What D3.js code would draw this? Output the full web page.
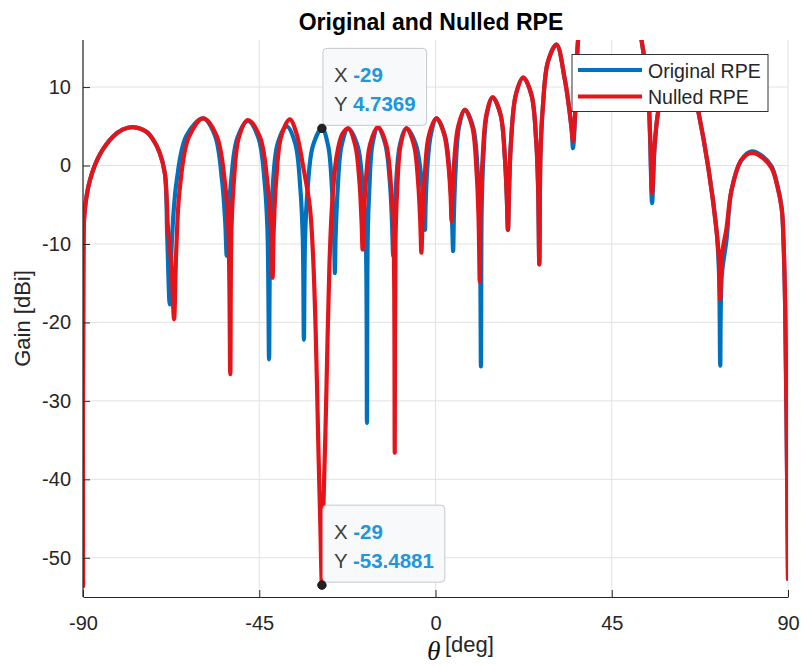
<!DOCTYPE html>
<html>
<head>
<meta charset="utf-8">
<script src="https://cdn.jsdelivr.net/npm/d3@7"></script>
<style>
  body { margin: 0; background: #fff; }
  svg { display: block; font-family: "Liberation Sans", Arial, Helvetica, sans-serif; }
</style>
</head>
<body>
<svg id="chart" width="801" height="666"></svg>
<script>
// Axis ticks
const xTicks = [-90, -45, 0, 45, 90];
const yTicks = [10, 0, -10, -20, -30, -40, -50];

// Series names (legend order)
const seriesNames = ["Original RPE", "Nulled RPE"];

// Radiation pattern samples: [theta (deg), gain (dBi)]
const originalRPE = [
  [-90,-53.6],[-89.9,-12],[-89.6,-6],[-88.3,-2],[-85.7,1.4],[-82.3,3.7],[-79.8,4.6],[-77.3,4.9],[-73.8,4.3],[-72.1,3.3],[-70.4,1.6],[-69.1,-1.0],[-68.5,-9],[-67.85,-17.7],
  [-67.25,-9],[-66.1,-2.0],[-63.6,3.8],[-59.3,6.0],[-56.3,3.8],[-54.5,-1.9],[-53.7,-7.1],[-53.3,-11.5],
  [-52.9,-7.2],[-52.2,-2.0],[-50.6,3.5],[-47.9,5.7],[-45.2,3.5],[-43.6,-2.3],[-42.9,-8.3],[-42.5,-24.7],
  [-42.2,-9.0],[-41.6,-3.0],[-40.3,2.8],[-38.0,5.0],[-35.8,2.8],[-34.5,-3.0],[-33.9,-9.0],[-33.6,-22.2],
  [-33.3,-9.3],[-32.7,-3.3],[-31.3,2.5],[-29.0,4.7369],[-27.4,2.5],[-26.4,-3.3],[-25.9,-9.1],[-25.7,-13.7],
  [-25.5,-9.1],[-25.0,-3.3],[-24.0,2.5],[-22.3,4.7],[-19.9,2.5],[-18.5,-3.3],[-17.8,-9.3],[-17.5,-32.8],
  [-17.3,-9.1],[-16.9,-3.1],[-16.1,2.7],[-14.7,4.9],[-12.8,2.7],[-11.6,-2.5],[-11.1,-7.4],[-10.8,-11.5],
  [-10.5,-7.4],[-10.1,-2.6],[-9.1,2.6],[-7.4,4.75],[-5.1,2.8],[-3.7,-1.1],[-3.0,-5.0],[-2.7,-8.2],
  [-2.5,-4.7],[-2.1,-0.4],[-1.2,3.9],[0.25,6.0],[2.4,3.8],[3.7,-1.6],[4.2,-6.7],[4.5,-10.9],
  [4.7,-6.4],[5.1,-0.9],[6.0,4.9],[7.5,7.1],[9.6,4.9],[10.8,-0.9],[11.3,-6.9],[11.6,-25.6],
  [11.8,-5.3],[12.2,0.7],[13.1,6.5],[14.6,8.7],[16.6,6.5],[17.7,1.1],[18.2,-4.0],[18.5,-8.2],
  [18.8,-2.8],[19.3,3.2],[20.5,9.0],[22.4,11.2],[24.5,9.0],[25.7,3.2],[26.2,-2.8],[26.5,-12.6],
  [26.8,1.4],[27.4,7.4],[28.7,13.2],[30.9,15.4],[33.0,11.0],[34.2,7.0],[34.8,4.3],[35.1,2.2],
  [35.75,7.5],[36.4,16],[37.5,20],[40,24],[44.5,26],[49,24],[51.5,20],[52.6,16],[53.4,13.4],[54.3,9.6],[54.8,3.3],[55.3,-4.8],
  [55.9,2],[56.8,6.7],[58.5,10.5],[62,12.5],[65.5,10.5],[67.1,6.9],[69.6,-0.1],[71.8,-8.5],[72.4,-14],[72.7,-25.5],
  [73.1,-14],[74.3,-9.5],[75.6,-3.1],[78.1,0.7],[80.7,1.8],[83.5,1.2],[85.8,-0.1],[87.3,-2.5],[88.4,-5.5],[88.9,-10.3],[89.3,-18.8],[89.65,-33.6],[90,-52.7]
];

const nulledRPE = [
  [-90,-53.6],[-89.9,-12],[-89.6,-6],[-88.3,-2],[-85.7,1.4],[-82.3,3.7],[-79.8,4.6],[-77.3,4.9],[-73.8,4.3],[-72.1,3.3],[-70.4,1.6],[-69.1,-1.0],[-68.3,-8],[-67.4,-13],[-66.75,-19.6],
  [-66.2,-11],[-65.3,-3],[-63.0,3.6],[-59.3,6.0],[-55.9,3.8],[-53.8,-2.0],[-52.9,-8.0],[-52.4,-26.6],
  [-52.1,-8.2],[-51.5,-2.2],[-50.2,3.6],[-47.9,5.8],[-44.8,3.6],[-42.9,-2.2],[-42.0,-8.2],[-41.6,-14.3],
  [-41.3,-8.1],[-40.7,-2.1],[-39.4,3.7],[-37.2,5.9],[-35.5,4.1],[-33.8,-0.1],[-32.1,-5.2],[-31.3,-11.1],[-30.6,-21],[-29.9,-36],[-29.4,-46],[-29.0,-53.4881],
  [-28.6,-43],[-28.1,-34],[-27.6,-23],[-27.1,-13],[-26.4,-5],[-25.3,1.0],[-23.8,4.0],[-22.3,4.75],[-20.5,2.6],[-19.4,-2.2],[-18.9,-6.9],[-18.6,-10.7],
  [-18.3,-6.8],[-17.8,-2.1],[-16.7,2.7],[-14.7,4.9],[-12.6,2.7],[-11.3,-3.1],[-10.7,-9.1],[-10.4,-36.6],
  [-10.2,-9.3],[-9.8,-3.3],[-8.9,2.6],[-7.4,4.75],[-5.5,2.6],[-4.4,-2.4],[-3.9,-7.1],[-3.6,-11.1],
  [-3.3,-6.8],[-2.8,-1.7],[-1.7,3.8],[0.25,6.0],[2.2,4.0],[3.3,0.1],[3.85,-3.8],[4.1,-7.1],
  [4.35,-3.6],[4.8,0.7],[5.8,5.0],[7.5,7.1],[9.4,4.9],[10.5,-0.9],[11.0,-6.9],[11.3,-14.8],
  [11.5,-5.3],[12.0,0.7],[13.0,6.5],[14.6,8.7],[16.6,6.5],[17.7,1.1],[18.2,-4.0],[18.5,-8.2],
  [18.8,-2.8],[19.3,3.2],[20.5,9.0],[22.4,11.2],[24.5,9.0],[25.7,3.2],[26.2,-2.8],[26.5,-12.6],
  [26.8,1.4],[27.4,7.4],[28.7,13.2],[30.9,15.4],[33.0,11.0],[34.2,7.0],[34.8,4.5],[35.1,3.1],
  [35.75,7.5],[36.4,16],[37.5,20],[40,24],[44.5,26],[49,24],[51.5,20],[52.6,16],[53.4,13.4],[54.3,9.6],[54.8,3.8],[55.3,-3.5],
  [55.9,2.3],[56.8,6.7],[58.5,10.5],[62,12.5],[65.5,10.5],[67.1,6.9],[69.6,-0.1],[71.8,-8.5],[72.3,-11.5],[72.7,-17.1],
  [73.1,-11.5],[74.3,-8],[75.6,-3.1],[78.1,0.7],[80.7,1.6],[83.5,1.0],[85.8,-0.3],[87.3,-2.7],[88.4,-5.5],[88.9,-10.3],[89.3,-18.8],[89.65,-33.6],[90,-52.7]
];

// Data tips: [theta, gain]
const dataTips = [[-29, 4.7369], [-29, -53.4881]];

const colors = { original: "#0072bd", nulled: "#e5141b", axis: "#262626", grid: "#e2e2e2", tipValue: "#2196dc" };

const svg = d3.select("#chart");
const plot = { left: 83, right: 788, top: 40, bottom: 597 };

const x = d3.scaleLinear().domain([-90, 90]).range([plot.left, plot.right]);
const y = d3.scaleLinear().domain([-55, 16]).range([plot.bottom, plot.top]);

// Grid
const grid = svg.append("g");
grid.selectAll("line.vg").data(xTicks).join("line")
  .attr("x1", d => x(d)).attr("x2", d => x(d))
  .attr("y1", plot.top).attr("y2", plot.bottom)
  .attr("stroke", colors.grid).attr("stroke-width", 1);
grid.selectAll("line.hg").data(yTicks).join("line")
  .attr("x1", plot.left).attr("x2", plot.right)
  .attr("y1", d => y(d)).attr("y2", d => y(d))
  .attr("stroke", colors.grid).attr("stroke-width", 1);

// Curves
svg.append("defs").append("clipPath").attr("id", "plotClip")
  .append("rect").attr("x", plot.left).attr("y", plot.top)
  .attr("width", plot.right - plot.left).attr("height", plot.bottom - plot.top);

const line = d3.line()
  .x(d => x(d[0])).y(d => y(d[1]))
  .curve(d3.curveCatmullRom.alpha(0.5));

const curves = svg.append("g").attr("clip-path", "url(#plotClip)");
curves.append("path").datum(originalRPE).attr("d", line)
  .attr("fill", "none").attr("stroke", colors.original).attr("stroke-width", 4.2)
  .attr("stroke-linejoin", "round").attr("stroke-linecap", "round");
curves.append("path").datum(nulledRPE).attr("d", line)
  .attr("fill", "none").attr("stroke", colors.nulled).attr("stroke-width", 4.2)
  .attr("stroke-linejoin", "round").attr("stroke-linecap", "round");

// Axes (plain hyphen-minus in tick labels)
const plainNum = d => String(d);
const xAxis = d3.axisBottom(x).tickValues(xTicks).tickFormat(plainNum)
  .tickSizeInner(-7).tickSizeOuter(0).tickPadding(19);
const yAxis = d3.axisLeft(y).tickValues(yTicks).tickFormat(plainNum)
  .tickSizeInner(-7).tickSizeOuter(0).tickPadding(12);

const gx = svg.append("g").attr("transform", `translate(0,${plot.bottom})`).call(xAxis);
const gy = svg.append("g").attr("transform", `translate(${plot.left},0)`).call(yAxis);
[gx, gy].forEach(g => {
  g.select(".domain").attr("stroke", colors.axis).attr("stroke-width", 1.2);
  g.selectAll(".tick line").attr("stroke", colors.axis).attr("stroke-width", 1);
  g.selectAll(".tick text").attr("fill", colors.axis)
    .style("font-size", "20px").style("font-family", "'Liberation Sans', Arial, sans-serif");
});
gy.select(".domain").attr("d", `M0,${plot.bottom}V${plot.top}`);

// Title
svg.append("text").attr("x", 431).attr("y", 30).attr("text-anchor", "middle")
  .style("font-size", "23px").style("font-weight", "bold").attr("fill", "#000")
  .text("Original and Nulled RPE");

// Y label
svg.append("text")
  .attr("transform", `translate(30,${(plot.top + plot.bottom) / 2}) rotate(-90)`)
  .attr("text-anchor", "middle").style("font-size", "22px").attr("fill", colors.axis)
  .text("Gain [dBi]");

// X label: italic theta followed by unit
svg.append("text").attr("x", 427).attr("y", 660)
  .style("font-family", "'Liberation Serif', 'DejaVu Serif', serif")
  .style("font-style", "italic").style("font-size", "27.5px").attr("fill", "#111")
  .text("θ");
svg.append("text").attr("x", 445).attr("y", 652)
  .style("font-size", "22px").attr("fill", colors.axis)
  .text("[deg]");

// Legend
const legend = svg.append("g");
legend.append("rect").attr("x", 572).attr("y", 54.5).attr("width", 196).attr("height", 57)
  .attr("fill", "#fff").attr("stroke", "#333").attr("stroke-width", 1);
const legendItems = [
  { name: seriesNames[0], color: colors.original, yy: 70 },
  { name: seriesNames[1], color: colors.nulled, yy: 96.5 }
];
legendItems.forEach(it => {
  legend.append("line").attr("x1", 578).attr("x2", 642).attr("y1", it.yy).attr("y2", it.yy)
    .attr("stroke", it.color).attr("stroke-width", 4.2);
  legend.append("text").attr("x", 648).attr("y", it.yy + 7.5)
    .style("font-size", "19.5px").attr("fill", colors.axis).text(it.name);
});

// Data tips
dataTips.forEach(([t, g]) => {
  const ax = x(t), ay = y(g);
  const tip = svg.append("g");
  const box = tip.append("rect").attr("rx", 4).attr("ry", 4)
    .attr("fill", "#f8f9fb").attr("stroke", "#c6c8cc").attr("stroke-width", 1);
  const bx = ax + 1, bh = 77, by = ay - 3 - bh;
  const rows = [["X", String(t)], ["Y", String(g)]];
  let maxW = 0;
  rows.forEach((r, i) => {
    const tx = tip.append("text").attr("x", bx + 11).attr("y", by + 34 + i * 28.5)
      .style("font-size", "20.5px");
    tx.append("tspan").attr("fill", "#404040").text(r[0] + " ");
    tx.append("tspan").attr("fill", colors.tipValue).style("font-weight", "bold").text(r[1]);
    maxW = Math.max(maxW, tx.node().getComputedTextLength());
  });
  box.attr("x", bx).attr("y", by).attr("width", maxW + 22).attr("height", bh);
  svg.append("circle").attr("cx", ax).attr("cy", ay).attr("r", 4.2)
    .attr("fill", "#222").attr("stroke", "#111").attr("stroke-width", 1);
});
</script>
</body>
</html>
